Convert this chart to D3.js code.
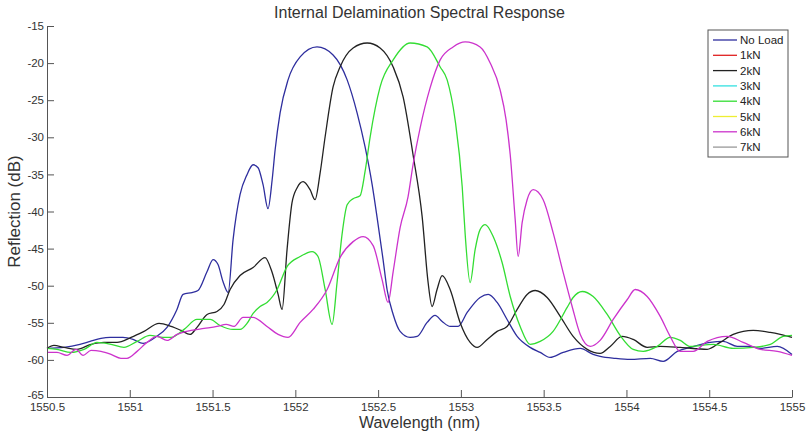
<!DOCTYPE html>
<html>
<head>
<meta charset="utf-8">
<script src="https://cdn.jsdelivr.net/npm/d3@7"></script>
<style>
  body { margin: 0; background: #fff; }
  svg { display: block; font-family: "Liberation Sans", Arial, sans-serif; }
</style>
</head>
<body>
<svg width="807" height="436"></svg>
<script>
// legend entries (only four traces are visible in the figure)
var seriesNames = ["No Load", "1kN", "2kN", "3kN", "4kN", "5kN", "6kN", "7kN"];
var seriesColors = ["#2e2e9e", "#e02020", "#222222", "#33e0e0", "#33dd33", "#eeee33", "#cc33cc", "#999999"];

var xTicks = [1550.5, 1551, 1551.5, 1552, 1552.5, 1553, 1553.5, 1554, 1554.5, 1555];
var yTicks = [-15, -20, -25, -30, -35, -40, -45, -50, -55, -60, -65];

// [wavelength nm, reflection dB]
var noLoad = [
  [1550.5,-58.45],[1550.603,-58.31],[1550.699,-57.91],[1550.76,-57.51],[1550.826,-57.10],[1550.881,-56.97],
  [1550.959,-56.97],[1551.02,-57.24],[1551.08,-57.78],[1551.153,-56.97],[1551.225,-55.62],[1551.285,-53.20],
  [1551.322,-51.18],[1551.376,-50.92],[1551.412,-50.65],[1551.467,-48.09],[1551.503,-46.48],[1551.533,-47.15],
  [1551.563,-49.44],[1551.594,-50.92],[1551.624,-43.79],[1551.666,-37.73],[1551.708,-35.04],[1551.745,-33.70],
  [1551.775,-34.10],[1551.805,-36.39],[1551.835,-39.62],[1551.86,-35.72],[1551.878,-31.68],[1551.908,-26.70],
  [1551.956,-22.26],[1552.029,-19.17],[1552.131,-17.82],[1552.228,-18.90],[1552.313,-22.26],[1552.373,-26.70],
  [1552.421,-31.27],[1552.464,-36.39],[1552.494,-40.83],[1552.53,-46.48],[1552.554,-50.51],[1552.591,-53.88],
  [1552.633,-56.16],[1552.693,-56.97],[1552.736,-56.83],[1552.796,-54.95],[1552.844,-54.01],[1552.887,-54.82],
  [1552.935,-55.49],[1552.983,-55.49],[1553.038,-53.61],[1553.116,-51.59],[1553.165,-51.18],[1553.219,-52.26],
  [1553.279,-54.55],[1553.34,-56.83],[1553.418,-58.31],[1553.479,-58.99],[1553.539,-59.66],[1553.618,-58.99],
  [1553.721,-58.45],[1553.799,-59.26],[1553.841,-59.52],[1553.932,-59.79],[1554.023,-59.93],[1554.144,-59.79],
  [1554.222,-60.20],[1554.307,-58.85],[1554.385,-58.31],[1554.506,-57.64],[1554.585,-57.51],[1554.669,-58.18],
  [1554.748,-58.18],[1554.808,-58.45],[1554.911,-58.18],[1555,-59.26]
];

var load2kN = [
  [1550.5,-58.45],[1550.542,-58.05],[1550.603,-58.31],[1550.681,-58.58],[1550.766,-57.91],[1550.844,-57.64],
  [1550.923,-57.64],[1551.008,-56.97],[1551.086,-56.16],[1551.177,-55.09],[1551.249,-55.49],[1551.31,-56.03],
  [1551.364,-56.57],[1551.406,-55.62],[1551.467,-53.88],[1551.527,-53.47],[1551.569,-52.53],[1551.606,-50.51],
  [1551.666,-48.63],[1551.745,-47.55],[1551.817,-46.21],[1551.86,-48.23],[1551.896,-51.18],[1551.92,-53.20],
  [1551.95,-45.13],[1551.98,-38.81],[1552.011,-36.79],[1552.047,-35.98],[1552.089,-37.06],[1552.119,-38.41],
  [1552.15,-34.77],[1552.18,-29.93],[1552.228,-23.21],[1552.27,-20.52],[1552.349,-17.96],[1552.434,-17.29],
  [1552.512,-17.96],[1552.591,-20.52],[1552.651,-24.55],[1552.711,-32.35],[1552.766,-40.69],[1552.802,-49.57],
  [1552.826,-52.80],[1552.856,-50.51],[1552.887,-48.63],[1552.935,-50.51],[1552.995,-54.95],[1553.056,-57.64],
  [1553.098,-58.31],[1553.159,-57.24],[1553.219,-56.16],[1553.279,-55.49],[1553.34,-53.20],[1553.4,-51.18],
  [1553.449,-50.65],[1553.521,-51.59],[1553.6,-54.14],[1553.678,-56.83],[1553.763,-58.58],[1553.841,-59.12],
  [1553.902,-58.18],[1553.974,-56.83],[1554.041,-57.24],[1554.125,-58.31],[1554.204,-58.18],[1554.325,-58.31],
  [1554.488,-58.58],[1554.566,-57.64],[1554.645,-56.57],[1554.766,-56.03],[1554.869,-56.30],[1554.929,-56.57],
  [1555,-56.97]
];

var load4kN = [
  [1550.5,-58.45],[1550.56,-58.58],[1550.645,-58.99],[1550.724,-58.58],[1550.802,-57.64],[1550.887,-57.91],
  [1550.965,-58.31],[1551.044,-57.51],[1551.122,-56.70],[1551.201,-56.97],[1551.249,-56.97],[1551.328,-55.89],
  [1551.406,-54.55],[1551.485,-54.55],[1551.545,-55.36],[1551.624,-55.89],[1551.666,-55.89],[1551.708,-55.09],
  [1551.745,-53.74],[1551.787,-52.80],[1551.829,-52.26],[1551.89,-50.51],[1551.95,-47.42],[1552.029,-46.07],
  [1552.101,-45.40],[1552.137,-46.07],[1552.18,-50.51],[1552.222,-55.22],[1552.252,-49.57],[1552.282,-43.11],
  [1552.313,-39.08],[1552.349,-38.27],[1552.391,-37.87],[1552.421,-34.64],[1552.452,-29.93],[1552.512,-23.21],
  [1552.591,-19.57],[1552.693,-17.29],[1552.796,-17.82],[1552.875,-20.52],[1552.917,-22.26],[1552.965,-27.64],
  [1553.008,-36.66],[1553.026,-43.11],[1553.056,-49.57],[1553.086,-45.13],[1553.116,-42.44],[1553.147,-41.77],
  [1553.195,-43.38],[1553.249,-46.88],[1553.298,-51.45],[1553.358,-55.49],[1553.418,-57.91],[1553.479,-57.51],
  [1553.557,-56.16],[1553.642,-52.93],[1553.678,-51.59],[1553.733,-50.78],[1553.799,-51.45],[1553.884,-53.88],
  [1553.962,-56.70],[1554.041,-58.58],[1554.101,-58.85],[1554.186,-58.18],[1554.264,-56.97],[1554.325,-57.37],
  [1554.385,-58.18],[1554.524,-57.91],[1554.645,-58.45],[1554.766,-58.31],[1554.869,-57.91],[1554.947,-56.83],
  [1555,-56.70]
];

var load6kN = [
  [1550.5,-58.99],[1550.56,-58.99],[1550.621,-59.39],[1550.675,-58.58],[1550.718,-59.39],[1550.766,-58.72],
  [1550.826,-58.85],[1550.887,-59.26],[1550.947,-59.79],[1550.983,-59.79],[1551.044,-58.85],[1551.104,-57.64],
  [1551.165,-56.83],[1551.225,-57.37],[1551.285,-56.57],[1551.37,-56.03],[1551.449,-55.76],[1551.527,-55.49],
  [1551.582,-55.22],[1551.63,-55.49],[1551.684,-54.28],[1551.745,-54.28],[1551.829,-55.49],[1551.896,-56.57],
  [1551.956,-56.97],[1552.029,-54.95],[1552.107,-53.20],[1552.192,-50.51],[1552.27,-46.21],[1552.349,-44.06],
  [1552.409,-43.38],[1552.47,-44.59],[1552.524,-49.17],[1552.56,-52.26],[1552.591,-48.09],[1552.633,-42.17],
  [1552.681,-38.00],[1552.711,-33.70],[1552.754,-28.72],[1552.814,-23.34],[1552.875,-19.57],[1552.953,-17.82],
  [1553.026,-17.15],[1553.116,-17.82],[1553.177,-19.98],[1553.237,-23.61],[1553.273,-27.64],[1553.298,-32.35],
  [1553.328,-41.10],[1553.346,-46.07],[1553.37,-41.50],[1553.4,-38.41],[1553.437,-37.06],[1553.497,-38.41],
  [1553.557,-42.85],[1553.618,-48.23],[1553.672,-52.80],[1553.721,-56.57],[1553.781,-58.18],[1553.841,-57.37],
  [1553.92,-54.55],[1554.005,-51.86],[1554.053,-50.51],[1554.125,-51.45],[1554.204,-54.14],[1554.264,-56.83],
  [1554.325,-58.85],[1554.403,-58.85],[1554.488,-57.51],[1554.609,-56.83],[1554.705,-57.64],[1554.808,-58.58],
  [1554.911,-58.85],[1555,-59.39]
];

var traces = [
  {name: "No Load", values: noLoad},
  {name: "2kN", values: load2kN},
  {name: "4kN", values: load4kN},
  {name: "6kN", values: load6kN}
];

var svg = d3.select("svg"),
    margin = {top: 26, right: 15, bottom: 39, left: 47},
    width = 807 - margin.left - margin.right,
    height = 436 - margin.top - margin.bottom,
    g = svg.append("g").attr("transform", "translate(" + margin.left + "," + margin.top + ")");

var x = d3.scaleLinear().domain([1550.5, 1555]).range([0, width]);
var y = d3.scaleLinear().domain([-65, -15]).range([height, 0]);
var color = d3.scaleOrdinal().domain(seriesNames).range(seriesColors);

var line = d3.line()
    .x(function(d) { return x(d[0]); })
    .y(function(d) { return y(d[1]); })
    .curve(d3.curveMonotoneX);

g.selectAll("path.trace")
    .data(traces)
    .enter().append("path")
    .attr("class", "trace")
    .attr("fill", "none")
    .attr("stroke", function(d) { return color(d.name); })
    .attr("stroke-width", 1.3)
    .attr("stroke-linejoin", "round")
    .attr("d", function(d) { return line(d.values); });

// axes, MATLAB style ticks pointing inward
var xAxis = g.append("g")
    .attr("transform", "translate(0," + height + ")")
    .call(d3.axisBottom(x).tickValues(xTicks).tickSizeInner(-7).tickSizeOuter(0).tickPadding(4)
      .tickFormat(function(d) { return String(d); }));

var yAxis = g.append("g")
    .call(d3.axisLeft(y).tickValues(yTicks).tickSizeInner(-7).tickSizeOuter(0).tickPadding(3)
      .tickFormat(function(d) { return String(d); }));

[xAxis, yAxis].forEach(function(a) {
  a.selectAll("path.domain").attr("stroke", "#555");
  a.selectAll(".tick line").attr("stroke", "#555");
  a.selectAll(".tick text").attr("fill", "#333").attr("font-size", "11.5px")
    .attr("font-family", "Liberation Sans, Arial, sans-serif");
});
xAxis.selectAll(".tick text").attr("dy", "0.9em");
// lowest y label sits a touch higher so it clears the first x label
yAxis.selectAll(".tick text").filter(function(d) { return d === -65; }).attr("dy", "0.1em");

svg.append("text")
    .attr("x", margin.left + width / 2)
    .attr("y", 18)
    .attr("text-anchor", "middle")
    .attr("fill", "#333")
    .attr("font-size", "16px")
    .text("Internal Delamination Spectral Response");

svg.append("text")
    .attr("x", margin.left + width / 2)
    .attr("y", 428)
    .attr("text-anchor", "middle")
    .attr("fill", "#333")
    .attr("font-size", "16px")
    .text("Wavelength (nm)");

svg.append("text")
    .attr("transform", "translate(20," + (margin.top + height / 2) + ") rotate(-90)")
    .attr("text-anchor", "middle")
    .attr("fill", "#333")
    .attr("font-size", "17px")
    .text("Reflection (dB)");

// legend box
var legend = svg.append("g").attr("transform", "translate(708,30)");

legend.append("rect")
    .attr("width", 80)
    .attr("height", 127)
    .attr("fill", "#fff")
    .attr("stroke", "#555")
    .attr("stroke-width", 1);

var item = legend.selectAll("g.item")
    .data(seriesNames)
    .enter().append("g")
    .attr("class", "item")
    .attr("transform", function(d, i) { return "translate(0," + (10 + i * 15.3) + ")"; });

item.append("line")
    .attr("x1", 5)
    .attr("x2", 29)
    .attr("stroke", function(d) { return color(d); })
    .attr("stroke-width", 1.3);

item.append("text")
    .attr("x", 32)
    .attr("dy", "0.35em")
    .attr("fill", "#222")
    .attr("font-size", "11.5px")
    .text(function(d) { return d; });
</script>
</body>
</html>
